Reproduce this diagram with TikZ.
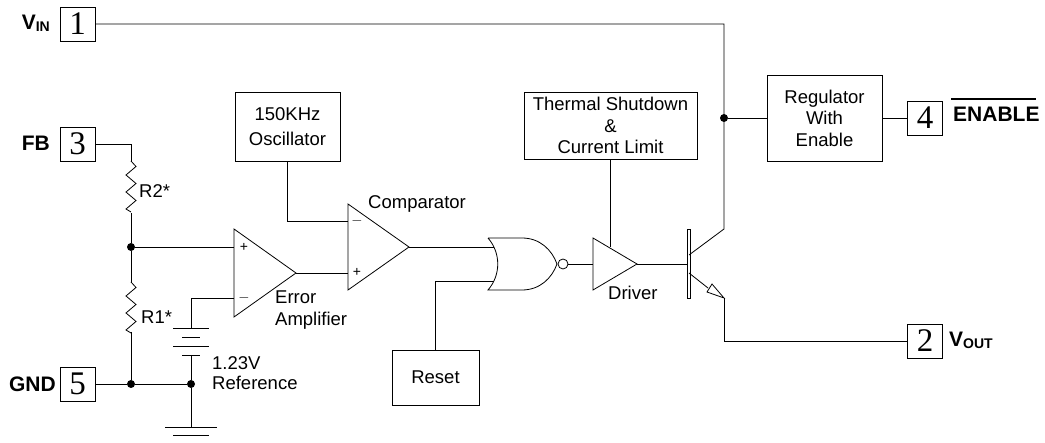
\documentclass[tikz,border=0pt]{standalone}
\usepackage{fontspec}
\setmainfont{Liberation Sans}
\newfontfamily\pinfont{Liberation Serif}
\usepackage{tikz}
\usetikzlibrary{calc}

\tikzset{
    wire/.style={line width=0.8pt},
    pinbox/.style={draw, line width=0.8pt, minimum width=35pt, minimum height=34pt, inner sep=0pt,
        font=\pinfont\fontsize{33}{33}\selectfont},
    blockbox/.style={draw, line width=0.8pt, inner sep=0pt, align=center,
        font=\fontsize{18.5}{21.5}\selectfont},
    pinlabel/.style={inner sep=0pt, font=\bfseries\fontsize{21}{24}\selectfont},
    txt/.style={inner sep=0pt, align=left, anchor=west, font=\fontsize{18.5}{20}\selectfont},
    sign/.style={inner sep=0pt, font=\fontsize{14}{14}\selectfont},
    dot/.style={circle, fill=black, inner sep=0pt, minimum size=8pt},
}

\begin{document}
\begin{tikzpicture}[x=1pt, y=-1pt]
    \useasboundingbox (0,0) rectangle (1045,443);

    % package pins
    \foreach \m/\x/\y in {
        1/77.5/24, 3/77.5/144, 5/77.5/384, 4/925/118, 2/925/341}
        \node[pinbox] (pin\m) at (\x,\y) {\m};

    \node[pinlabel, anchor=east] (vinlabel) at (50,23) {V\fontsize{14}{14}\selectfont\raisebox{-2pt}{IN}};
    \node[pinlabel, anchor=east] (fblabel) at (50,143) {FB};
    \node[pinlabel, anchor=east] (gndlabel) at (56,384) {GND};
    \node[pinlabel, anchor=west] (enablelabel) at (953,114) {ENABLE};
    \node[pinlabel, anchor=west] (voutlabel) at (949,340) {V\fontsize{14}{14}\selectfont\raisebox{-2pt}{OUT}};
    \draw[line width=1.2pt] (951,99) -- (1036,99);

    % blocks
    \foreach \m/\x/\y/\w/\h/\t in {
        osc/287.5/126.5/105/69/{150KHz\\[3pt]Oscillator},
        thermal/610.5/125.5/173/67/{Thermal Shutdown\\\&\\Current Limit},
        regulator/824.5/118/115/86/{Regulator\\With\\Enable},
        reset/435.5/377.5/87/55/{Reset}}
        \node[blockbox, minimum width=\w pt, minimum height=\h pt] (\m) at (\x,\y) {\t};

    % amplifiers
    \foreach \m/\x/\a/\b/\tip in {
        erramp/234/229/317/296,
        comp/348/204/290/409,
        driver/593/238/290/637}{
        \draw[wire] (\x,\a) -- (\x,\b) -- (\tip,{(\a+\b)/2}) -- cycle;
        \coordinate (\m tip) at (\tip,{(\a+\b)/2});
    }
    \foreach \m/\x/\y/\t in {
        ep/244/247/+, em/244/298/$-$, cm/357/221/$-$, cp/357/272/+}
        \node[sign] (\m) at (\x,\y) {\t};

    % nor gate
    \draw[wire] (488,238) -- (522,238) .. controls (540,238) and (552,250) .. (557,264)
        .. controls (552,278) and (540,290) .. (522,290) -- (488,290)
        .. controls (501,275) and (501,253) .. (488,238);
    \node[draw, circle, wire, fill=white, inner sep=0pt, minimum size=10pt] (bubble) at (563,264) {};

    % junctions
    \foreach \m/\x/\y in {
        jfb/131/247, jgnd/131/384, jref/191/384, jvin/724/118}
        \node[dot] (\m) at (\x,\y) {};

    \foreach \m/\x/\y in {
        r2top/131/161, r2bot/131/213, r1top/131/282, r1bot/131/332,
        platea/191/328, plateb/191/355, gnda/191/427,
        ep in/234/247, em in/234/298, cm in/348/221, cp in/348/273,
        nora/494/247, norb/494/281, drv in/593/264, drv top/610/247,
        base/687/264, coll/689/255, colltop/724/229, emit/689/273, emitbot/724/298}
        \coordinate (\m) at (\x,\y);

    % resistors
    \foreach \m in {r2top, r1top}
        \draw[wire] (\m) -- ++(5,5.5) -- ++(-10,8.5) -- ++(10,8.5) -- ++(-10,8.5)
            -- ++(10,8.5) -- ++(-10,8.5) -- ++(5,3);

    % reference cell and ground
    \foreach \y/\w in {328/18, 337/9, 346/18, 355/9, 427/26, 435/18}
        \draw[wire] ($(191,\y)+(-\w,0)$) -- ($(191,\y)+(\w,0)$);

    % connections
    \draw[wire] (pin1.east) -| (colltop) -- (coll);
    \draw[wire] (pin3.east) -| (r2top);
    \draw[wire] (r2bot) -- (jfb) -- (r1top);
    \draw[wire] (r1bot) -- (jgnd);
    \draw[wire] (pin5.east) -- (jgnd) -- (jref);
    \draw[wire] (jfb) -- (ep in);
    \draw[wire] (em in) -| (platea);
    \draw[wire] (plateb) -- (jref) -- (gnda);
    \draw[wire] (erramptip) -- (cp in);
    \draw[wire] (osc.south) |- (cm in);
    \draw[wire] (comptip) -- (nora);
    \draw[wire] (reset.north) |- (norb);
    \draw[wire] (bubble) -- (drv in);
    \draw[wire] (thermal.south -| drv top) -- (drv top);
    \draw[wire] (drivertip) -- (base);
    \draw[wire] (jvin) -- (regulator.west);
    \draw[wire] (regulator.east) -- (pin4.west);

    % transistor
    \draw[wire] (687,229) rectangle (690,298);
    \draw[wire] (emit) -- (708,288);
    \draw[wire, fill=white] (emitbot) -- (707,292) -- (712,284) -- cycle;
    \draw[wire] (emitbot) |- (pin2.west);

    % labels
    \node[txt] (r2label) at (139,191) {R2*};
    \node[txt] (r1label) at (141,317) {R1*};
    \node[txt] (reflabel) at (212,373) {1.23V\\Reference};
    \node[txt] (errlabel) at (275,310) {Error\\[2pt]Amplifier};
    \node[txt] (complabel) at (368,204) {Comparator};
    \node[txt] (drvlabel) at (608,293) {Driver};
\end{tikzpicture}
\end{document}
